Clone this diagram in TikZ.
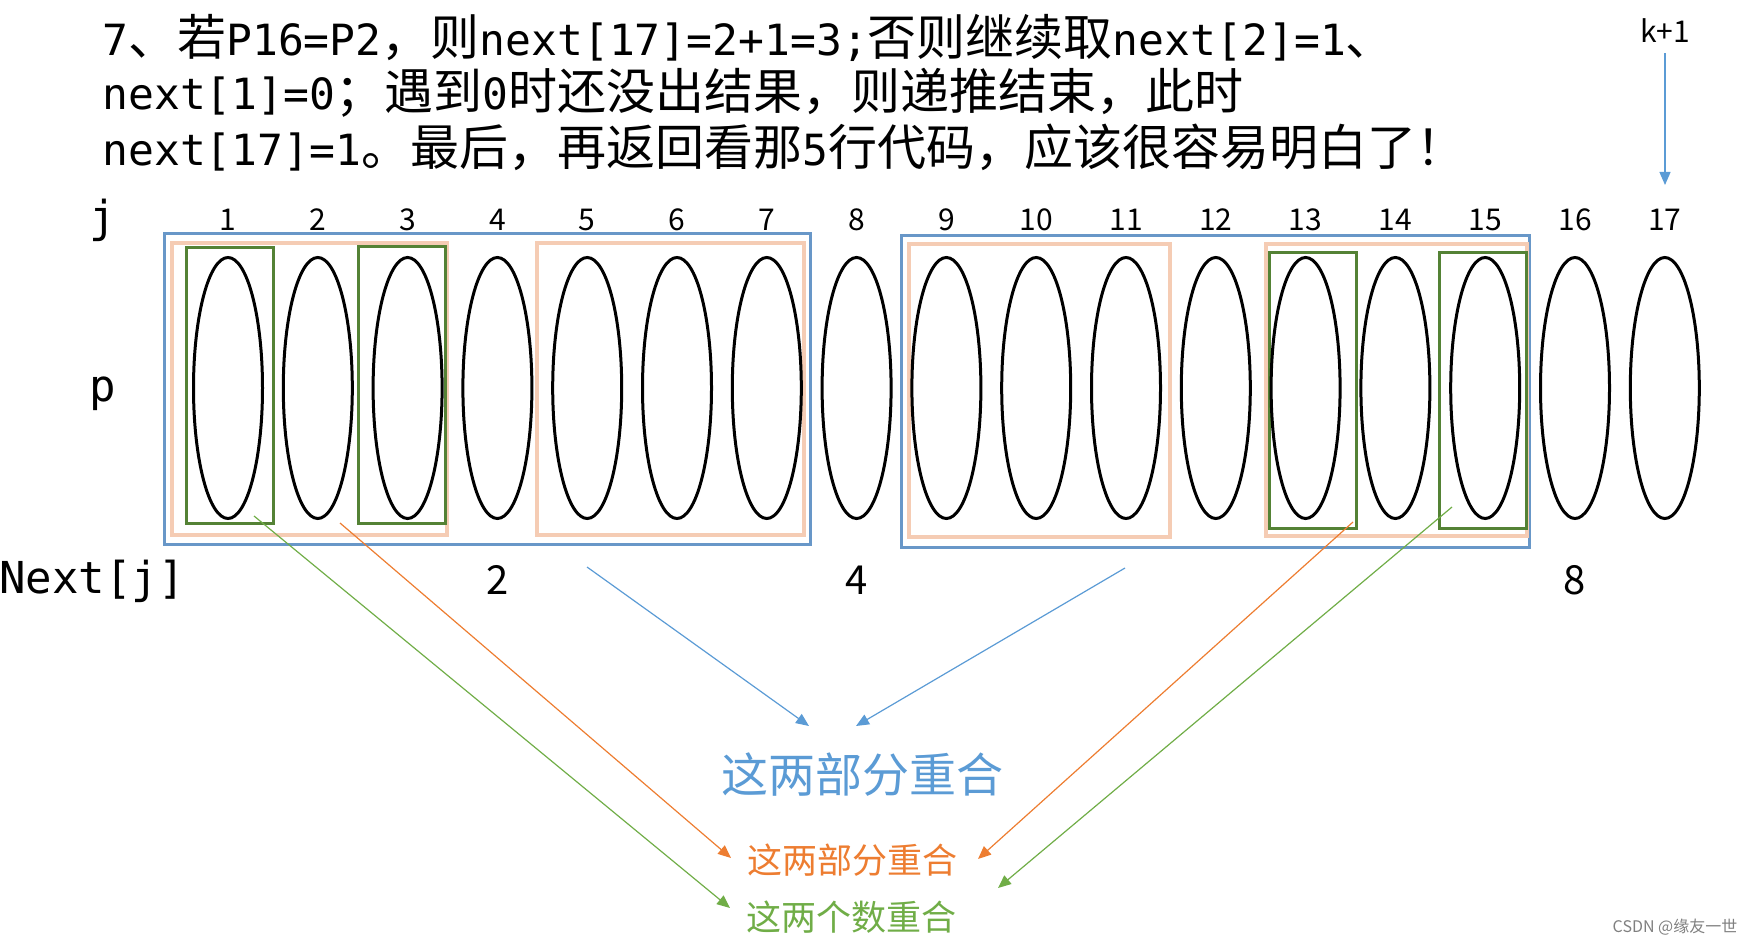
\documentclass[tikz,border=0pt]{standalone}
\usepackage{fontspec}
\setmainfont{Noto Sans CJK SC}
\newfontfamily\monofnt{DejaVu Sans Mono}
\usetikzlibrary{arrows.meta,positioning,shapes.geometric}

\definecolor{boxblue}{RGB}{104,151,200}
\definecolor{peach}{RGB}{245,204,180}
\definecolor{dkgreen}{RGB}{84,130,53}
\definecolor{lnblue}{RGB}{91,155,213}
\definecolor{lnorange}{RGB}{237,125,49}
\definecolor{lngreen}{RGB}{112,173,71}

\newcommand{\mt}[1]{{\monofnt\fontsize{21.5}{26}\selectfont #1}}

\begin{document}
\begin{tikzpicture}[x=0.5pt,y=-0.5pt,node distance=44.9pt,
    oval/.style={draw,ellipse,line width=1.5pt,inner sep=0pt,minimum width=34.5pt,minimum height=130.5pt},
    num/.style={node distance=84pt,inner sep=0pt,font=\fontsize{15}{18}\selectfont},
    nxt/.style={node distance=96pt,inner sep=0pt,font=\fontsize{20}{24}\selectfont},
    bluebox/.style={draw=boxblue,line width=1.5pt},
    peachbox/.style={draw=peach,line width=1.7pt},
    greenbox/.style={draw=dkgreen,line width=1.5pt},
    arr/.style={-{Triangle[length=6.5pt,width=5.5pt]},line width=0.6pt}]
    \useasboundingbox (0,0) rectangle (1751,941);

    % text at the top
    \node[anchor=base west,inner sep=0pt,font=\fontsize{24.5}{30}\selectfont] (line1) at (102,56)
        {\mt{7}、若\mt{P16=P2}，则\mt{next[17]=2+1=3;}否则继续取\mt{next[2]=1}、};
    \node[anchor=base west,inner sep=0pt,font=\fontsize{24.5}{30}\selectfont] (line2) at (102,110)
        {\mt{next[1]=0}；遇到\mt{0}时还没出结果，则递推结束，此时};
    \node[anchor=base west,inner sep=0pt,font=\fontsize{24.5}{30}\selectfont] (line3) at (102,166)
        {\mt{next[17]=1}。最后，再返回看那\mt{5}行代码，应该很容易明白了！};

    % boxes
    \draw[bluebox] (164,234) rectangle (810,544);
    \draw[bluebox] (901,236) rectangle (1529,547);
    \draw[peachbox] (172,243) rectangle (447,535);
    \draw[peachbox] (537,243) rectangle (804,535);
    \draw[peachbox] (909,244) rectangle (1170,537);
    \draw[peachbox] (1266,244) rectangle (1527,536);
    \draw[greenbox] (186,248) rectangle (273,523);
    \draw[greenbox] (358,247) rectangle (445,523);
    \draw[greenbox] (1269,253) rectangle (1356,528);
    \draw[greenbox] (1439,253) rectangle (1526,528);

    % the string p
    \node[oval] (1) at (228,388) {};
    \node[oval] (2) [right of=1] {};
    \node[oval] (3) [right of=2] {};
    \node[oval] (4) [right of=3] {};
    \node[oval] (5) [right of=4] {};
    \node[oval] (6) [right of=5] {};
    \node[oval] (7) [right of=6] {};
    \node[oval] (8) [right of=7] {};
    \node[oval] (9) [right of=8] {};
    \node[oval] (10) [right of=9] {};
    \node[oval] (11) [right of=10] {};
    \node[oval] (12) [right of=11] {};
    \node[oval] (13) [right of=12] {};
    \node[oval] (14) [right of=13] {};
    \node[oval] (15) [right of=14] {};
    \node[oval] (16) [right of=15] {};
    \node[oval] (17) [right of=16] {};

    % index j
    \node[num, above of=1] (j1) {1};
    \node[num, above of=2] (j2) {2};
    \node[num, above of=3] (j3) {3};
    \node[num, above of=4] (j4) {4};
    \node[num, above of=5] (j5) {5};
    \node[num, above of=6] (j6) {6};
    \node[num, above of=7] (j7) {7};
    \node[num, above of=8] (j8) {8};
    \node[num, above of=9] (j9) {9};
    \node[num, above of=10] (j10) {10};
    \node[num, above of=11] (j11) {11};
    \node[num, above of=12] (j12) {12};
    \node[num, above of=13] (j13) {13};
    \node[num, above of=14] (j14) {14};
    \node[num, above of=15] (j15) {15};
    \node[num, above of=16] (j16) {16};
    \node[num, above of=17] (j17) {17};

    \node[font=\monofnt\fontsize{22}{26}\selectfont,anchor=base,inner sep=0pt] (jlab) at (103,233) {j};
    \node[font=\monofnt\fontsize{22}{26}\selectfont,anchor=base,inner sep=0pt] (plab) at (103,401) {p};
    \node[font=\monofnt\fontsize{22}{26}\selectfont,anchor=base west,inner sep=0pt] (nextj) at (-1,593) {Next[j]};

    % next values
    \node[nxt, below of=4] (n4) {2};
    \node[nxt, below of=8] (n8) {4};
    \node[nxt, below of=16] (n16) {8};

    % k+1
    \node[num] (kk) at (1665,31) {k+1};
    \coordinate (ktip) at (1665,185);
    \draw[arr,lnblue] ([yshift=-5pt]kk.south) -- (ktip);

    % captions
    \node[text=lnblue,font=\fontsize{23.5}{28}\selectfont] (merge1) at (862,775) {这两部分重合};
    \node[text=lnorange,font=\fontsize{17.5}{21}\selectfont] (merge2) at (852,860) {这两部分重合};
    \node[text=lngreen,font=\fontsize{17.5}{21}\selectfont] (merge3) at (851,917) {这两个数重合};
    \node[text=gray,font=\fontsize{8}{10}\selectfont] (mark) at (1675,927) {CSDN @缘友一世};

    % arrows
    \coordinate (b1) at (587,567);  \coordinate (b1t) at (809,726);
    \coordinate (b2) at (1125,568); \coordinate (b2t) at (856,726);
    \coordinate (o1) at (340,523);  \coordinate (o1t) at (731,858);
    \coordinate (o2) at (1353,522); \coordinate (o2t) at (978,859);
    \coordinate (g1) at (254,516);  \coordinate (g1t) at (730,908);
    \coordinate (g2) at (1452,507); \coordinate (g2t) at (998,888);
    \draw[arr,lnblue] (b1) -- (b1t);
    \draw[arr,lnblue] (b2) -- (b2t);
    \draw[arr,lnorange] (o1) -- (o1t);
    \draw[arr,lnorange] (o2) -- (o2t);
    \draw[arr,lngreen] (g1) -- (g1t);
    \draw[arr,lngreen] (g2) -- (g2t);
\end{tikzpicture}
\end{document}
